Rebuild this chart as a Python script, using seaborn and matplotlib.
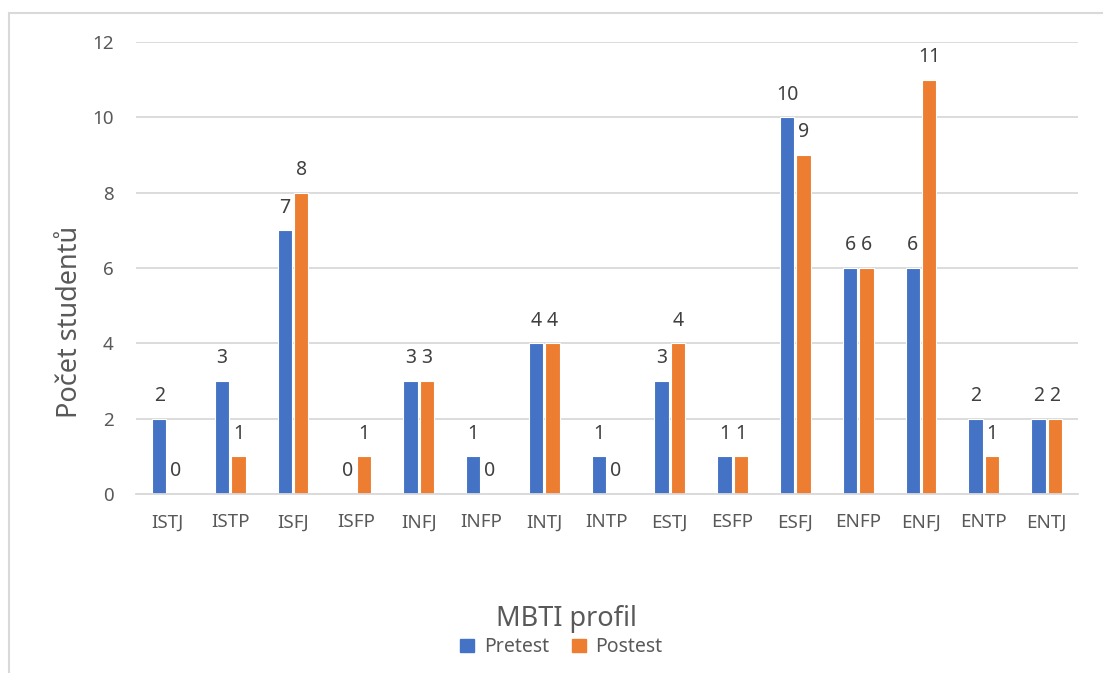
import matplotlib
matplotlib.use("Agg")
import matplotlib.pyplot as plt
import seaborn as sns
import pandas as pd
from matplotlib.patches import Rectangle

categories = ["ISTJ", "ISTP", "ISFJ", "ISFP", "INFJ", "INFP", "INTJ", "INTP",
              "ESTJ", "ESFP", "ESFJ", "ENFP", "ENFJ", "ENTP", "ENTJ"]
pretest = [2, 3, 7, 0, 3, 1, 4, 1, 3, 1, 10, 6, 6, 2, 2]
postest = [0, 1, 8, 1, 3, 0, 4, 0, 4, 1, 9, 6, 11, 1, 2]
series_names = ["Pretest", "Postest"]
colors = ["#4472C4", "#ED7D31"]

df = pd.DataFrame({
    "profil": categories * 2,
    "value": pretest + postest,
    "series": [series_names[0]] * len(categories) + [series_names[1]] * len(categories),
})

sns.set_theme(style="white")
plt.rcParams['font.family'] = ['Noto Sans', 'DejaVu Sans']

fig = plt.figure(figsize=(11.03, 6.73), dpi=100)
ax = fig.add_axes([0.1233, 0.2660, 0.854, 0.6716])

sns.barplot(data=df, x="profil", y="value", hue="series", order=categories,
            hue_order=series_names, palette=colors, saturation=1,
            width=0.52, gap=0.12, edgecolor="white", linewidth=0.8,
            ax=ax, legend=True)

for cont in ax.containers:
    ax.bar_label(cont, labels=[f"{int(v)}" for v in cont.datavalues],
                 padding=9, fontsize=14, color="#404040")

ax.set_ylim(0, 12)
ax.set_yticks(range(0, 13, 2))
ax.yaxis.grid(True, color="#d9d9d9", linewidth=1.3)
ax.set_axisbelow(True)
for s in ["top", "right", "left"]:
    ax.spines[s].set_visible(False)
ax.spines["bottom"].set_color("#d9d9d9")
ax.spines["bottom"].set_linewidth(1.3)
ax.tick_params(axis="both", length=0, labelsize=13.5, labelcolor="#595959")
ax.tick_params(axis="y", pad=16)
ax.tick_params(axis="x", pad=14)
ax.set_xlim(-0.5, len(categories) - 0.5)

ax.set_ylabel("Počet studentů", fontsize=19.5, color="#595959")
ax.yaxis.set_label_coords(-0.0552, 0.3805)
ax.set_xlabel("MBTI profil", fontsize=19.5, color="#595959")
ax.xaxis.set_label_coords(0.4565, -0.2456)

leg = ax.get_legend()
leg.remove()
handles = [Rectangle((0, 0), 1, 1, color=c) for c in colors]
fig.legend(handles, series_names, loc="center", bbox_to_anchor=(0.509, 0.038),
           ncol=2, frameon=False, fontsize=14, handlelength=0.7, handleheight=0.7,
           columnspacing=1.2, handletextpad=0.5, labelcolor="#595959")

fig.patches.append(Rectangle((9 / 1103, -0.1), 1.2, 1 - 13 / 673 + 0.1,
                             transform=fig.transFigure, fill=False,
                             edgecolor="#d9d9d9", linewidth=1.5, zorder=0))

fig.savefig("out.png", dpi=100)
